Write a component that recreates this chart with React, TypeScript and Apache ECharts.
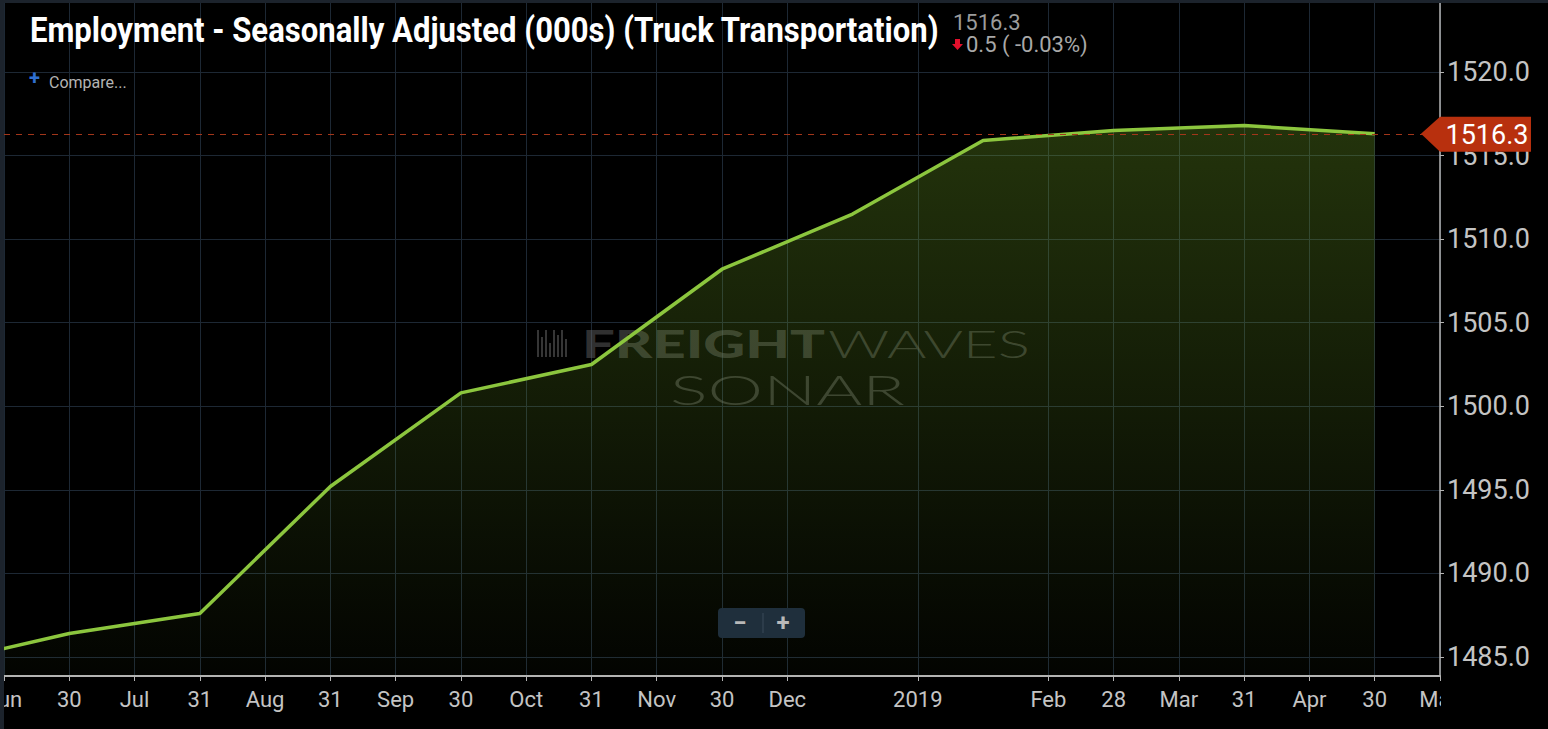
import React, { useEffect, useRef } from "react";
import * as echarts from "echarts";

// ---- data ----
const monthEnds = ["May 31", "Jun 30", "Jul 31", "Aug 31", "Sep 30", "Oct 31", "Nov 30", "Dec 31", "Jan 31", "Feb 28", "Mar 31", "Apr 30"];
const employment = [1484.6, 1486.4, 1487.6, 1495.2, 1500.8, 1502.5, 1508.2, 1511.5, 1515.9, 1516.5, 1516.8, 1516.3];
// each month-end sits on an even half-month slot of the axis
const monthSlots = [-2, 0, 2, 4, 6, 8, 10, 12, 14, 16, 18, 20];
const tickSlots = [-1, 0, 1, 2, 3, 4, 5, 6, 7, 8, 9, 10, 11, 13, 15, 16, 17, 18, 19, 20, 21];
const tickLabels = ["Jun", "30", "Jul", "31", "Aug", "31", "Sep", "30", "Oct", "31", "Nov", "30", "Dec", "2019", "Feb", "28", "Mar", "31", "Apr", "30", "May"];
const yTicks = [1485, 1490, 1495, 1500, 1505, 1510, 1515, 1520];
const yMin = 1483.86;
const yMax = 1524.13;
const xMin = -1;
const xMax = 21;

const TITLE = "Employment - Seasonally Adjusted (000s) (Truck Transportation)";

function measure(text: string, font: string): number {
  const ctx = document.createElement("canvas").getContext("2d");
  if (!ctx) return 100;
  ctx.font = font;
  return ctx.measureText(text).width;
}

export default function App() {
  const ref = useRef<HTMLDivElement>(null);

  useEffect(() => {
    document.body.style.margin = "0";
    document.body.style.background = "#000";
    if (!ref.current) return;
    const chart = echarts.init(ref.current, null, { renderer: "svg" });

    const last = employment[employment.length - 1];
    const prev = employment[employment.length - 2];
    const diff = last - prev;
    const pct = (diff / prev) * 100;

    const lineData = monthSlots.map((s, i) => [s, employment[i]]);

    const option: any = {
      animation: false,
      backgroundColor: "#000",
      grid: { left: 4, right: 108, top: 3, bottom: 53, containLabel: false, outerBoundsMode: "none" },
      xAxis: {
        type: "value",
        min: xMin,
        max: xMax,
        axisLine: { show: true, onZero: false, lineStyle: { color: "#b4b4b4", width: 2 } },
        axisTick: { show: true, length: 5, customValues: tickSlots, lineStyle: { color: "#b4b4b4", width: 1 } },
        axisLabel: {
          customValues: tickSlots,
          formatter: (v: number) => {
            const k = tickSlots.indexOf(Math.round(v));
            return k >= 0 ? tickLabels[k] : "";
          },
          color: "#c4c4c4",
          fontFamily: "Roboto",
          fontSize: 22,
          margin: 12,
        },
        splitLine: { show: true, lineStyle: { color: "#1d2834", width: 1 } },
      },
      yAxis: {
        type: "value",
        position: "right",
        min: yMin,
        max: yMax,
        axisLine: { show: true, onZero: false, lineStyle: { color: "#b4b4b4", width: 1.5 } },
        axisTick: { show: true, length: 4, customValues: yTicks, lineStyle: { color: "#b4b4b4" } },
        axisLabel: {
          customValues: yTicks,
          formatter: (v: number) => v.toFixed(1),
          color: "#c4c4c4",
          fontFamily: "Roboto",
          fontSize: 27,
          margin: 7,
        },
        splitLine: { show: true, lineStyle: { color: "#1d2834", width: 1 } },
      },
      series: [
        {
          type: "line",
          name: "Truck Transportation",
          data: lineData,
          symbol: "none",
          z: 3,
          lineStyle: { color: "#8cc63e", width: 3.5 },
          areaStyle: {
            color: new echarts.graphic.LinearGradient(0, 0, 0, 1, [
              { offset: 0, color: "rgba(120,175,40,0.42)" },
              { offset: 1, color: "rgba(120,175,40,0.03)" },
            ]),
          },
          markLine: {
            silent: true,
            symbol: "none",
            label: { show: false },
            lineStyle: { color: "#a3361a", type: [6, 6], width: 1 },
            data: [{ yAxis: last }],
          },
        },
      ],
    };
    chart.setOption(option);

    const yPix = chart.convertToPixel({ yAxisIndex: 0 }, last) as number;

    // text scaling to emulate condensed / extended faces
    const titleFont = "bold 36px Roboto";
    const titleScale = 910 / measure(TITLE, titleFont);
    const fwBold = "900 38px Lato";
    const fwBoldScale = 243 / measure("FREIGHT", fwBold);
    const fwThin = "300 38px Lato";
    const fwThinScale = 202 / measure("WAVES", fwThin);
    const sonarFont = "300 41px Lato";
    const sonarScale = 235 / measure("SONAR", sonarFont);

    const iconBars: any[] = [];
    const barH = [27, 20, 27, 14, 27, 22, 27, 18];
    for (let i = 0; i < barH.length; i++) {
      iconBars.push({
        type: "rect",
        shape: { x: 537 + i * 4, y: 330 + (27 - barH[i]), width: 2, height: barH[i] },
        style: { fill: "rgba(120,120,120,0.45)" },
        z: 1,
      });
    }

    chart.setOption({
      graphic: [
        // frame strips
        { type: "rect", shape: { x: 0, y: 0, width: 1548, height: 3 }, style: { fill: "#1c232c" }, z: 100 },
        { type: "rect", shape: { x: 0, y: 0, width: 4, height: 729 }, style: { fill: "#1c232c" }, z: 100 },
        // clip of the last x label
        { type: "rect", shape: { x: 1441, y: 679, width: 107, height: 50 }, style: { fill: "#000" }, z: 99 },
        // title
        {
          type: "text",
          x: 30,
          y: 30,
          scaleX: titleScale,
          style: { text: TITLE, font: titleFont, fill: "#ffffff", verticalAlign: "middle" },
          z: 50,
        },
        {
          type: "text",
          x: 953,
          y: 22,
          style: { text: last.toFixed(1), font: "22px Roboto", fill: "#9c9c9c", verticalAlign: "middle" },
          z: 50,
        },
        {
          type: "polygon",
          shape: { points: [[955, 39], [960, 39], [960, 44], [963, 44], [957.5, 50], [952, 44], [955, 44]] },
          style: { fill: "#e3102c" },
          z: 50,
        },
        {
          type: "text",
          x: 966,
          y: 44.5,
          style: {
            text: `${Math.abs(diff).toFixed(1)} ( ${pct.toFixed(2)}%)`,
            font: "22px Roboto",
            fill: "#a8a8a8",
            verticalAlign: "middle",
          },
          z: 50,
        },
        {
          type: "text",
          x: 29,
          y: 78,
          style: { text: "+", font: "bold 20px Roboto", fill: "#2f6fd0", verticalAlign: "middle" },
          z: 50,
        },
        {
          type: "text",
          x: 49,
          y: 82,
          style: { text: "Compare...", font: "16px Roboto", fill: "#b4b4b4", verticalAlign: "middle" },
          z: 50,
        },
        // watermark
        ...iconBars,
        {
          type: "text",
          x: 582,
          y: 343,
          scaleX: fwBoldScale,
          style: { text: "FREIGHT", font: fwBold, fill: "rgba(110,110,110,0.45)", verticalAlign: "middle" },
          z: 1,
        },
        {
          type: "text",
          x: 828,
          y: 343,
          scaleX: fwThinScale,
          style: { text: "WAVES", font: fwThin, fill: "rgba(110,110,110,0.45)", verticalAlign: "middle" },
          z: 1,
        },
        {
          type: "text",
          x: 670,
          y: 389,
          scaleX: sonarScale,
          style: { text: "SONAR", font: sonarFont, fill: "rgba(110,110,110,0.45)", verticalAlign: "middle" },
          z: 1,
        },
        // zoom buttons
        { type: "rect", shape: { x: 718, y: 608, width: 87, height: 30, r: 4 }, style: { fill: "#1f2f3c" }, z: 50 },
        { type: "line", shape: { x1: 763, y1: 613, x2: 763, y2: 633 }, style: { stroke: "#3b4b59", lineWidth: 1 }, z: 51 },
        { type: "text", x: 740, y: 623, style: { text: "−", font: "bold 24px Roboto", fill: "#b8b8b8", align: "center", verticalAlign: "middle" }, z: 51 },
        { type: "text", x: 783, y: 623, style: { text: "+", font: "bold 24px Roboto", fill: "#b8b8b8", align: "center", verticalAlign: "middle" }, z: 51 },
        // last value tag
        {
          type: "polygon",
          shape: { points: [[1421, yPix], [1440, yPix - 17], [1531, yPix - 17], [1531, yPix + 18], [1440, yPix + 18]] },
          style: { fill: "#b8300e" },
          z: 60,
        },
        {
          type: "text",
          x: 1487,
          y: yPix + 1,
          style: { text: last.toFixed(1), font: "27px Roboto", fill: "#ffffff", align: "center", verticalAlign: "middle" },
          z: 61,
        },
      ],
    });

    return () => chart.dispose();
  }, []);

  return <div ref={ref} style={{ width: 1548, height: 729 }} />;
}
